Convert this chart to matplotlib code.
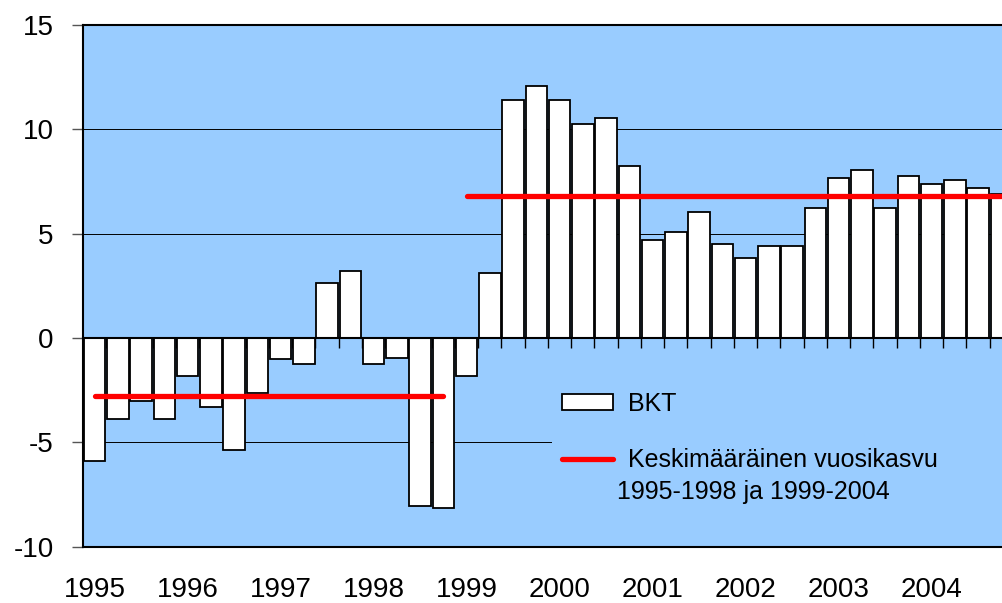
import numpy as np
import matplotlib.pyplot as plt

plt.rcParams['font.family'] = ['Liberation Sans', 'DejaVu Sans']
plt.rcParams['axes.unicode_minus'] = False

# quarterly GDP growth, 1995Q1 - 2004Q4
years = [str(y) for y in range(1995, 2005)]
bkt = [-5.9, -3.9, -3.0, -3.9, -1.8, -3.3, -5.35, -2.65,
       -1.0, -1.25, 2.65, 3.22, -1.25, -0.95, -8.05, -8.15,
       -1.8, 3.13, 11.4, 12.1, 11.4, 10.25, 10.55, 8.25,
       4.7, 5.1, 6.05, 4.5, 3.85, 4.4, 4.4, 6.25,
       7.65, 8.05, 6.25, 7.75, 7.4, 7.55, 7.2, 6.9]
avg_95_98 = -2.76
avg_99_04 = 6.82

bg = '#99CCFF'
x = np.arange(len(bkt))

fig = plt.figure(figsize=(10.03, 6.03), dpi=100)
ax = fig.add_axes([83 / 1003, 1 - 546.7 / 603, 930 / 1003, 521.7 / 603])
ax.set_facecolor(bg)

ax.set_ylim(-10, 15)
ax.set_xlim(-0.5, len(bkt) - 0.5)
ax.set_yticks([-10, -5, 0, 5, 10, 15])
ax.grid(axis='y', color='black', linewidth=0.7)
ax.set_axisbelow(True)

bars = ax.bar(x, bkt, width=0.93, color='white', edgecolor='black',
              linewidth=1.3, zorder=2)

n1 = 16
avg_line, = ax.plot(x[:n1], [avg_95_98] * n1, color='#FF0000', linewidth=3.8,
                    solid_capstyle='round', zorder=4)
ax.plot(x[n1:], [avg_99_04] * (len(bkt) - n1), color='#FF0000',
        linewidth=3.8, solid_capstyle='round', zorder=4)

# x axis line through zero with tick marks between quarters
ax.spines['bottom'].set_position(('data', 0))
ax.spines['bottom'].set_linewidth(1.5)
ax.spines['bottom'].set_zorder(3)
ax.set_xticks(np.arange(-0.5, len(bkt), 1))
ax.tick_params(axis='x', length=7, width=1, labelbottom=False, color='black')
ax.spines['right'].set_visible(False)
ax.spines['left'].set_linewidth(1.5)
ax.spines['top'].set_linewidth(1.5)

# year labels at the bottom of the plot area
sec = ax.secondary_xaxis('bottom')
sec.set_xticks(x[::4], years)
sec.tick_params(length=0, pad=22, labelsize=20)
sec.spines['bottom'].set_linewidth(1.5)

ax.tick_params(axis='y', length=8, width=1, pad=13, labelsize=20,
               color='#555555')

leg = ax.legend([bars, avg_line], ['BKT', 'Keskimääräinen vuosikasvu'],
                loc='upper left', bbox_to_anchor=(0.504, 0.2157, 0.6, 0.1),
                mode='expand', frameon=True, facecolor=bg, edgecolor='none',
                framealpha=1, fancybox=False, fontsize=18,
                handlelength=2.05, handleheight=0.6, handletextpad=0.6,
                labelspacing=1.3, borderpad=0.4, borderaxespad=0)
leg.set_zorder(5)
ax.text(0.5742, 0.1049, '1995-1998 ja 1999-2004', transform=ax.transAxes,
        fontsize=18, va='center', ha='left', zorder=6)

fig.savefig('out.png', dpi=100)
